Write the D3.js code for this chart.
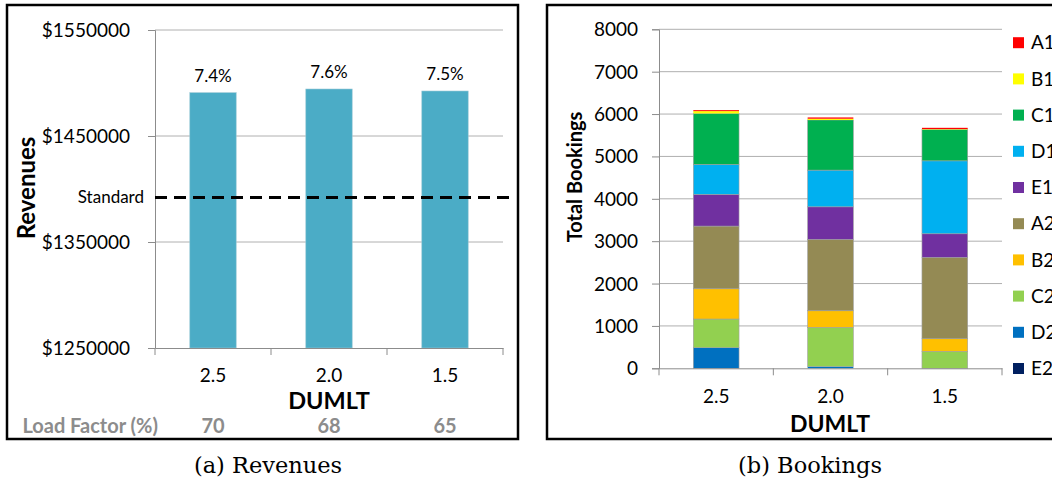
<!DOCTYPE html>
<html>
<head>
<meta charset="utf-8">
<script src="https://cdn.jsdelivr.net/npm/d3@7"></script>
<style>
  html, body { margin: 0; padding: 0; background: #fff; }
  svg { display: block; font-family: Lato, "Open Sans", sans-serif; }
</style>
</head>
<body>
<svg id="chart" width="1052" height="486"></svg>
<script>
// ---- (a) Revenues ----
const dumlt = ["2.5", "2.0", "1.5"];
const revenues = [1490850, 1494340, 1492450];
const gainLabels = ["7.4%", "7.6%", "7.5%"];
const loadFactor = [70, 68, 65];
const standardRevenue = 1392000;
const revenueTicks = [1250000, 1350000, 1450000, 1550000];

// ---- (b) Bookings ----
const classes = ["A1", "B1", "C1", "D1", "E1", "A2", "B2", "C2", "D2", "E2"];
const classColors = ["#FF0000", "#FFFF00", "#00B050", "#00B0F0", "#7030A0",
                     "#948A54", "#FFC000", "#92D050", "#0070C0", "#002060"];
// bookings per class, one array per DUMLT value (same order as classes)
const bookings25 = [23, 55, 1203, 705, 750, 1479, 714, 677, 486, 0];
const bookings20 = [30, 30, 1183, 866, 769, 1684, 391, 927, 40, 0];
const bookings15 = [28, 10, 741, 1721, 557, 1920, 297, 401, 0, 0];
const bookingTicks = [0, 1000, 2000, 3000, 4000, 5000, 6000, 7000, 8000];

const svg = d3.select("#chart");
svg.append("rect").attr("width", 1052).attr("height", 486).attr("fill", "#fff");

const gridColor = "#b0b0b0";
const axisColor = "#8c8c8c";
const serif = "'DejaVu Serif', 'Liberation Serif', serif";

// ================= Panel (a) =================
const A = svg.append("g");
A.append("rect").attr("x", 7).attr("y", 5).attr("width", 511).attr("height", 434)
  .attr("fill", "none").attr("stroke", "#000").attr("stroke-width", 2.5);

const xa = d3.scaleBand().domain(dumlt).range([155, 503]);
const ya = d3.scaleLinear().domain([1250000, 1550000]).range([348, 30]);

// gridlines
A.append("g").selectAll("line").data(revenueTicks.slice(1)).join("line")
  .attr("x1", 155).attr("x2", 503)
  .attr("y1", d => ya(d)).attr("y2", d => ya(d))
  .attr("stroke", gridColor).attr("stroke-width", 1);

// y axis
const yAxisA = A.append("g").attr("transform", "translate(155,0)")
  .call(d3.axisLeft(ya).tickValues(revenueTicks).tickSize(7).tickPadding(18)
    .tickFormat(d => "$" + d));
yAxisA.select(".domain").attr("stroke", axisColor);
yAxisA.selectAll(".tick line").attr("stroke", axisColor);
yAxisA.selectAll("text").style("font-size", "19px").style("font-family", "Lato, sans-serif")
  .attr("fill", "#000").attr("dy", "0.34em");

// bars
const bwA = xa.bandwidth() * 0.4;
A.append("g").selectAll("rect").data(revenues).join("rect")
  .attr("x", (d, i) => xa(dumlt[i]) + (xa.bandwidth() - bwA) / 2)
  .attr("width", bwA)
  .attr("y", d => ya(d))
  .attr("height", d => ya(1250000) - ya(d))
  .attr("fill", "#4BACC6").attr("stroke", "#9cc9d6").attr("stroke-width", 0.6);

// value labels
A.append("g").selectAll("text").data(revenues).join("text")
  .attr("x", (d, i) => xa(dumlt[i]) + xa.bandwidth() / 2)
  .attr("y", d => ya(d) - 11)
  .attr("text-anchor", "middle").style("font-size", "17px").attr("fill", "#000")
  .text((d, i) => gainLabels[i]);

// x axis
const xAxisA = A.append("g").attr("transform", "translate(0,348)")
  .call(d3.axisBottom(xa).tickSize(0).tickPadding(21));
xAxisA.select(".domain").attr("stroke", axisColor);
xAxisA.selectAll("text").style("font-size", "19px").style("font-family", "Lato, sans-serif")
  .attr("fill", "#000");
A.append("g").selectAll("line").data(d3.range(4)).join("line")
  .attr("x1", i => 155 + i * xa.step()).attr("x2", i => 155 + i * xa.step())
  .attr("y1", 348).attr("y2", 355).attr("stroke", axisColor);

// standard reference
A.append("line").attr("x1", 155).attr("x2", 511)
  .attr("y1", ya(standardRevenue)).attr("y2", ya(standardRevenue))
  .attr("stroke", "#000").attr("stroke-width", 3).attr("stroke-dasharray", "12,7");
A.append("text").attr("x", 144).attr("y", ya(standardRevenue) + 6)
  .attr("text-anchor", "end").style("font-size", "17px").text("Standard");

// axis titles
A.append("text").attr("transform", "translate(35,188) rotate(-90)")
  .attr("text-anchor", "middle").style("font-size", "24px").attr("font-weight", "bold")
  .text("Revenues");
A.append("text").attr("x", 329).attr("y", 409).attr("text-anchor", "middle")
  .style("font-size", "23.5px").attr("font-weight", "bold").text("DUMLT");

// load factor row
A.append("text").attr("x", 158).attr("y", 433).attr("text-anchor", "end")
  .style("font-size", "20px").attr("font-weight", "bold").attr("fill", "#8c8c8c")
  .text("Load Factor (%)");
A.append("g").selectAll("text").data(loadFactor).join("text")
  .attr("x", (d, i) => xa(dumlt[i]) + xa.bandwidth() / 2).attr("y", 433)
  .attr("text-anchor", "middle").style("font-size", "20px").attr("font-weight", "bold")
  .attr("fill", "#8c8c8c").text(d => d);

// caption
svg.append("text").attr("x", 268).attr("y", 473).attr("text-anchor", "middle")
  .style("font-family", serif).style("font-size", "22.5px")
  .text("(a) Revenues");

// ================= Panel (b) =================
const B = svg.append("g");
B.append("rect").attr("x", 547).attr("y", 5).attr("width", 520).attr("height", 434)
  .attr("fill", "none").attr("stroke", "#000").attr("stroke-width", 2.5);

const xb = d3.scaleBand().domain(dumlt).range([659, 1002]);
const yb = d3.scaleLinear().domain([0, 8000]).range([368.3, 29.3]);

B.append("g").selectAll("line").data(bookingTicks.slice(1)).join("line")
  .attr("x1", 659).attr("x2", 1002)
  .attr("y1", d => yb(d)).attr("y2", d => yb(d))
  .attr("stroke", gridColor).attr("stroke-width", 1);

const yAxisB = B.append("g").attr("transform", "translate(659,0)")
  .call(d3.axisLeft(yb).tickValues(bookingTicks).tickSize(7).tickPadding(14)
    .tickFormat(d3.format("d")));
yAxisB.select(".domain").attr("stroke", axisColor);
yAxisB.selectAll(".tick line").attr("stroke", axisColor);
yAxisB.selectAll("text").style("font-size", "19px").style("font-family", "Lato, sans-serif")
  .attr("fill", "#000").attr("dy", "0.34em");

// stacked bars
const rows = dumlt.map((c, i) => {
  const vals = [bookings25, bookings20, bookings15][i];
  const r = { cat: c };
  classes.forEach((k, j) => r[k] = vals[j]);
  return r;
});
const stackOrder = classes.slice().reverse(); // E2 at the bottom, A1 on top
const series = d3.stack().keys(stackOrder)(rows);
const color = d3.scaleOrdinal().domain(classes).range(classColors);
const bwB = xb.bandwidth() * 0.4;

B.append("g").selectAll("g").data(series).join("g")
  .attr("fill", d => color(d.key))
  .selectAll("rect").data(d => d).join("rect")
  .attr("x", d => xb(d.data.cat) + (xb.bandwidth() - bwB) / 2)
  .attr("width", bwB)
  .attr("y", d => yb(d[1]))
  .attr("height", d => yb(d[0]) - yb(d[1]))
  .attr("stroke", d => (d[1] - d[0]) > 80 ? "#a0a0a0" : "none")
  .attr("stroke-width", 0.6);

const xAxisB = B.append("g").attr("transform", "translate(0,368.3)")
  .call(d3.axisBottom(xb).tickSize(0).tickPadding(21));
xAxisB.select(".domain").attr("stroke", axisColor);
xAxisB.selectAll("text").style("font-size", "19px").style("font-family", "Lato, sans-serif")
  .attr("fill", "#000");
B.append("g").selectAll("line").data(d3.range(4)).join("line")
  .attr("x1", i => 659 + i * xb.step()).attr("x2", i => 659 + i * xb.step())
  .attr("y1", 368.3).attr("y2", 375.3).attr("stroke", axisColor);

B.append("text").attr("transform", "translate(582,177) rotate(-90)")
  .attr("text-anchor", "middle").style("font-size", "20px").attr("font-weight", "bold")
  .text("Total Bookings");
B.append("text").attr("x", 830).attr("y", 432).attr("text-anchor", "middle")
  .style("font-size", "23px").attr("font-weight", "bold").text("DUMLT");

// legend
const leg = B.append("g").selectAll("g").data(classes).join("g")
  .attr("transform", (d, i) => `translate(1013,${42.7 + i * 36.2})`);
leg.append("rect").attr("x", 0).attr("y", -5.5).attr("width", 11).attr("height", 11)
  .attr("fill", d => color(d));
leg.append("text").attr("x", 18).attr("y", 0).attr("dy", "0.35em")
  .style("font-size", "19px").text(d => d);

svg.append("text").attr("x", 810).attr("y", 473).attr("text-anchor", "middle")
  .style("font-family", serif).style("font-size", "22.5px")
  .text("(b) Bookings");
</script>
</body>
</html>
